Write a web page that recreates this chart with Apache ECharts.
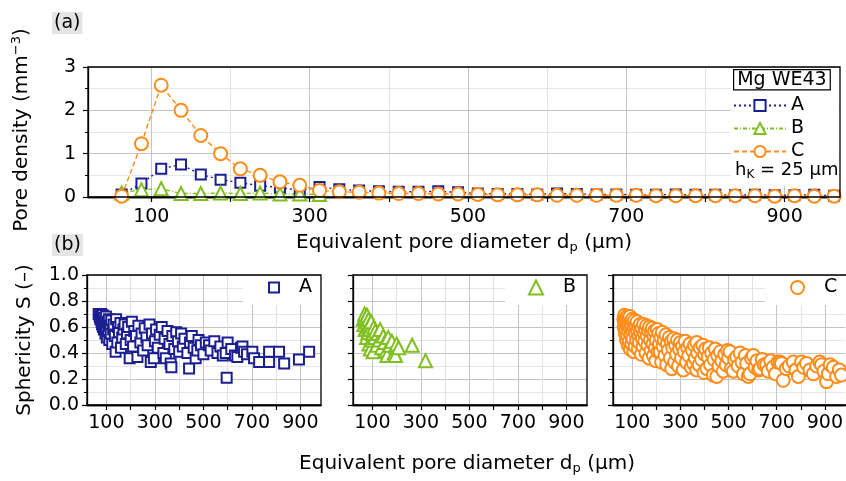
<!DOCTYPE html>
<html>
<head>
<meta charset="utf-8">
<script src="https://cdn.jsdelivr.net/npm/echarts@6/dist/echarts.min.js"></script>
<style>
html,body{margin:0;padding:0;background:#fff;}
#chart{width:846px;height:481px;}
</style>
</head>
<body>
<div id="chart"></div>
<script>
// Pore size classes (bin centres, class width h_K = 25 µm)
const poreBins = [62.5, 87.5, 112.5, 137.5, 162.5, 187.5, 212.5, 237.5, 262.5, 287.5,
  312.5, 337.5, 362.5, 387.5, 412.5, 437.5, 462.5, 487.5, 512.5, 537.5,
  562.5, 587.5, 612.5, 637.5, 662.5, 687.5, 712.5, 737.5, 762.5, 787.5,
  812.5, 837.5, 862.5, 887.5, 912.5, 937.5, 962.5];

// Pore density per class (mm^-3)
const densityA = [0.06, 0.31, 0.65, 0.75, 0.52, 0.40, 0.33, 0.26, 0.22, 0.15,
  0.23, 0.18, 0.15, 0.13, 0.12, 0.12, 0.13, 0.11, 0.08, 0.07,
  0.07, 0.06, 0.08, 0.07, 0.06, 0.06, 0.05, 0.05, 0.06, 0.05,
  0.05, 0.04, 0.05, 0.04, 0.04, 0.05, 0.03];
const densityB = [0.09, 0.17, 0.19, 0.08, 0.08, 0.09, 0.08, 0.09, 0.07, 0.07, 0.06];
const densityC = [0.02, 1.23, 2.58, 2.00, 1.42, 1.00, 0.65, 0.50, 0.35, 0.27,
  0.15, 0.12, 0.11, 0.09, 0.08, 0.08, 0.07, 0.07, 0.06, 0.05,
  0.05, 0.05, 0.04, 0.04, 0.04, 0.04, 0.04, 0.03, 0.03, 0.03,
  0.03, 0.03, 0.03, 0.02, 0.03, 0.02, 0.02];

// Single pores: [equivalent diameter (µm), sphericity]
const sphericityA = [
  [68,0.70],[72,0.68],[75,0.66],[78,0.70],[80,0.64],[82,0.62],[85,0.69],[86,0.60],[88,0.67],[90,0.58],
  [92,0.65],[95,0.62],[96,0.55],[98,0.68],[100,0.60],[102,0.52],[105,0.64],[108,0.57],[110,0.66],[112,0.50],
  [115,0.61],[118,0.55],[120,0.65],[124,0.47],[128,0.58],[130,0.62],[135,0.53],[138,0.41],[140,0.66],[145,0.48],
  [148,0.60],[152,0.56],[158,0.63],[160,0.44],[165,0.52],[170,0.58],[175,0.62],[180,0.47],[185,0.55],[190,0.60],
  [196,0.36],[200,0.50],[205,0.64],[210,0.45],[215,0.57],[222,0.53],[228,0.37],[232,0.61],[240,0.48],[245,0.55],
  [252,0.42],[258,0.59],[265,0.52],[270,0.46],[278,0.62],[283,0.33],[288,0.55],[296,0.36],[300,0.49],[305,0.58],
  [312,0.44],[320,0.54],[328,0.60],[335,0.40],[340,0.51],[345,0.36],[352,0.57],[360,0.47],[365,0.32],[368,0.29],
  [372,0.53],[380,0.43],[388,0.56],[395,0.49],[400,0.41],[408,0.55],[415,0.45],[422,0.51],[434,0.40],[441,0.28],
  [445,0.48],[452,0.53],[460,0.44],[468,0.36],[475,0.42],[480,0.50],[490,0.46],[500,0.39],[510,0.48],[523,0.46],
  [530,0.42],[545,0.49],[558,0.40],[570,0.45],[580,0.38],[592,0.40],[596,0.21],[600,0.48],[615,0.43],[630,0.38],
  [640,0.37],[655,0.44],[661,0.45],[668,0.41],[680,0.39],[702,0.41],[709,0.36],[730,0.33],[771,0.41],[771,0.33],
  [812,0.41],[833,0.32],[894,0.35],[936,0.41]
];
const sphericityB = [
  [62,0.66],[65,0.62],[68,0.70],[70,0.58],[72,0.67],[75,0.64],[76,0.52],[78,0.69],[80,0.60],[82,0.56],
  [84,0.66],[86,0.47],[88,0.62],[90,0.58],[92,0.43],[95,0.64],[97,0.50],[100,0.55],[103,0.41],[106,0.60],
  [110,0.52],[112,0.57],[118,0.46],[122,0.55],[128,0.50],[132,0.58],[138,0.44],[145,0.53],[150,0.48],[158,0.42],
  [160,0.38],[165,0.52],[172,0.46],[180,0.49],[190,0.40],[195,0.38],[200,0.47],[208,0.44],[264,0.46],[319,0.34]
];
const sphericityC = [
  [65,0.66],[66,0.60],[68,0.69],[70,0.63],[71,0.55],[73,0.67],[74,0.58],[76,0.50],[77,0.64],[79,0.68],
  [80,0.61],[81,0.53],[83,0.46],[84,0.66],[85,0.57],[87,0.62],[88,0.49],[90,0.68],[91,0.59],[92,0.43],
  [94,0.64],[95,0.54],[97,0.61],[98,0.47],[100,0.66],[102,0.57],[103,0.51],[105,0.63],[107,0.41],[108,0.59],
  [110,0.65],[112,0.45],[113,0.55],[115,0.61],[118,0.50],[120,0.64],[122,0.57],[125,0.43],[127,0.60],[128,0.53],
  [130,0.48],[133,0.62],[135,0.56],[138,0.39],[140,0.59],[142,0.51],[145,0.45],[147,0.62],[150,0.55],[152,0.49],
  [155,0.58],[157,0.40],[160,0.61],[162,0.53],[165,0.46],[168,0.57],[170,0.36],[172,0.60],[175,0.50],[178,0.42],
  [180,0.56],[183,0.59],[186,0.47],[188,0.38],[190,0.53],[193,0.57],[196,0.44],[198,0.34],[200,0.50],[204,0.58],
  [207,0.41],[210,0.55],[213,0.47],[216,0.41],[219,0.52],[222,0.33],[225,0.56],[228,0.45],[232,0.50],[236,0.38],
  [240,0.54],[243,0.31],[246,0.47],[250,0.42],[254,0.52],[258,0.36],[262,0.49],[264,0.28],[268,0.44],[272,0.51],
  [276,0.33],[280,0.46],[284,0.39],[288,0.50],[292,0.30],[296,0.43],[300,0.48],[304,0.36],[308,0.45],[312,0.27],
  [316,0.41],[320,0.49],[325,0.33],[330,0.44],[335,0.38],[340,0.47],[345,0.29],[350,0.42],[354,0.32],[358,0.46],
  [362,0.36],[368,0.27],[368,0.48],[372,0.40],[378,0.31],[382,0.44],[388,0.35],[393,0.46],[398,0.25],[400,0.39],
  [405,0.43],[410,0.28],[415,0.37],[420,0.44],[425,0.31],[430,0.40],[437,0.23],[440,0.35],[445,0.43],[451,0.22],
  [455,0.38],[460,0.30],[466,0.41],[472,0.34],[478,0.26],[484,0.39],[490,0.31],[496,0.42],[500,0.36],[506,0.41],
  [512,0.28],[520,0.26],[525,0.35],[534,0.37],[540,0.30],[548,0.40],[556,0.33],[562,0.24],[570,0.38],[575,0.32],
  [582,0.22],[589,0.24],[595,0.36],[603,0.38],[610,0.29],[618,0.34],[625,0.27],[631,0.28],[640,0.35],[648,0.31],
  [658,0.31],[665,0.26],[675,0.34],[685,0.29],[695,0.24],[705,0.33],[714,0.33],[720,0.32],[727,0.19],[740,0.28],
  [752,0.30],[769,0.33],[780,0.27],[790,0.22],[803,0.33],[812,0.29],[824,0.32],[838,0.27],[852,0.24],[866,0.30],
  [879,0.33],[886,0.31],[896,0.26],[907,0.18],[914,0.24],[922,0.31],[935,0.29],[949,0.22],[960,0.27],[969,0.23]
];

// Axis tick values
const labelledTicks = [100, 300, 500, 700, 900];
const unlabelledTicks = [200, 400, 600, 800];

const FONT = 'DejaVu Sans';
const colA = '#1b1f8f', colB = '#7fbf1f', colC = '#ff8c1a';

const topGrid = {left: 88, top: 67, width: 752, height: 130};
const lowGrids = [
  {left: 87, top: 275, width: 234, height: 130},
  {left: 353, top: 275, width: 234, height: 130},
  {left: 613, top: 275, width: 234, height: 130}
];
const TOP_LABEL_MARGIN = 11;

const pair = (xs, ys) => ys.map((v, i) => [xs[i], v]);

function xAxisPair(gridIndex, min, max, fontSize, labelMargin) {
  const base = {
    type: 'value', gridIndex, min, max, position: 'bottom',
    axisLine: {show: true, onZero: false, lineStyle: {color: '#000', width: 1.3}},
    axisTick: {show: true, inside: false, length: 5, lineStyle: {color: '#000', width: 1.2}},
    minorTick: {show: false}
  };
  return [
    Object.assign({}, base, {
      axisTick: Object.assign({}, base.axisTick, {customValues: labelledTicks}),
      axisLabel: {show: true, customValues: labelledTicks, margin: labelMargin,
        hideOverlap: false, fontSize, fontFamily: FONT, color: '#000'},
      splitLine: {show: true, lineStyle: {color: '#c4c4c4', width: 1}}
    }),
    Object.assign({}, base, {
      axisTick: Object.assign({}, base.axisTick, {customValues: unlabelledTicks}),
      axisLabel: {show: false, customValues: unlabelledTicks},
      splitLine: {show: true, lineStyle: {color: '#e2e2e2', width: 1}}
    })
  ];
}

const xAxes = [].concat(
  xAxisPair(0, 20, 970, 19, TOP_LABEL_MARGIN),
  xAxisPair(1, 20, 985, 19, 9),
  xAxisPair(2, 20, 985, 19, 9),
  xAxisPair(3, 20, 985, 19, 9)
);

const yAxisCommon = {
  type: 'value',
  axisLine: {show: true, onZero: false, lineStyle: {color: '#000', width: 1.3}},
  axisTick: {show: true, inside: false, length: 5, lineStyle: {color: '#000', width: 1.2}},
  minorTick: {show: true, splitNumber: 2, length: 3, lineStyle: {color: '#000', width: 1}},
  splitLine: {show: true, lineStyle: {color: '#c4c4c4', width: 1}},
  minorSplitLine: {show: true, lineStyle: {color: '#e6e6e6', width: 1}}
};

const yAxes = [
  Object.assign({}, yAxisCommon, {
    gridIndex: 0, min: 0, max: 3, interval: 1,
    axisLabel: {margin: 12, fontSize: 19, fontFamily: FONT, color: '#000'}
  }),
  Object.assign({}, yAxisCommon, {
    gridIndex: 1, min: 0, max: 1, interval: 0.2,
    axisLabel: {margin: 8, fontSize: 19, fontFamily: FONT, color: '#000',
      formatter: v => v.toFixed(1)},
    name: 'Sphericity S (–)', nameLocation: 'middle', nameGap: 52,
    nameTextStyle: {fontSize: 20, fontFamily: FONT, color: '#000'}
  }),
  Object.assign({}, yAxisCommon, {gridIndex: 2, min: 0, max: 1, interval: 0.2, axisLabel: {show: false}}),
  Object.assign({}, yAxisCommon, {gridIndex: 3, min: 0, max: 1, interval: 0.2, axisLabel: {show: false}})
];

function densityLine(name, values, color, symbol, size, dash) {
  return {
    type: 'line', name, xAxisIndex: 0, yAxisIndex: 0, clip: false,
    data: pair(poreBins, values),
    symbol, symbolSize: size, showAllSymbol: true,
    lineStyle: {color, width: 1.4, type: dash},
    itemStyle: {color: '#fff', borderColor: color, borderWidth: 2},
    emphasis: {disabled: true}
  };
}

function poreScatter(name, values, color, symbol, size, panel) {
  return {
    type: 'scatter', name, xAxisIndex: 2 * (panel + 1), yAxisIndex: panel + 1,
    data: values, symbol, symbolSize: size, clip: false,
    itemStyle: {color: '#fff', borderColor: color, borderWidth: 2, opacity: 1},
    emphasis: {disabled: true}
  };
}

const series = [
  densityLine('A', densityA, colA, 'rect', 10, [2, 3]),
  densityLine('B', densityB, colB, 'triangle', 13, [4, 2, 1, 2]),
  densityLine('C', densityC, colC, 'circle', 13, [5, 3]),
  poreScatter('pA', sphericityA, colA, 'rect', 10, 0),
  poreScatter('pB', sphericityB, colB, 'triangle', 13, 1),
  poreScatter('pC', sphericityC, colC, 'circle', 13, 2)
];

const legendText = {fontSize: 19, fontFamily: FONT, color: '#000'};
const cornerKey = (name, letter, left, size, gap) => ({
  data: [name], left, top: 278, padding: 0, itemWidth: size, itemHeight: size,
  formatter: () => letter, selectedMode: false,
  textStyle: Object.assign({}, legendText, {padding: [0, 0, 0, gap]})
});
const legends = [
  {data: ['A', 'B', 'C'], orient: 'vertical', left: 733, top: 96, padding: 0,
    itemWidth: 52, itemHeight: 14, itemGap: 4, textStyle: legendText, selectedMode: false},
  cornerKey('pA', 'A', 268, 10, 15),
  cornerKey('pB', 'B', 528, 14, 15),
  cornerKey('pC', 'C', 790, 13, 15)
];

const frame = g => ({type: 'rect', z: 6, silent: true,
  shape: {x: g.left, y: g.top, width: g.width, height: g.height},
  style: {fill: 'none', stroke: '#000', lineWidth: 1.3}});
const whiteBox = (x, y, w, h) => ({type: 'rect', z: 1, silent: true,
  shape: {x, y, width: w, height: h}, style: {fill: '#fff'}});
const subRich = {sub: {fontSize: 13, fontFamily: FONT, fill: '#000', padding: [9, 0, 0, 0]}};

const graphics = [
  whiteBox(731, 68, 108, 118),
  whiteBox(243, 276, 77, 29),
  whiteBox(505, 276, 81, 29),
  whiteBox(765, 276, 81, 29),
  frame(topGrid), frame(lowGrids[0]), frame(lowGrids[1]), frame(lowGrids[2]),
  {type: 'text', left: 52, top: 12, z: 7, silent: true,
    style: {text: '(a)', font: '19px "DejaVu Sans"', fill: '#000', backgroundColor: '#e4e4e4', padding: [2, 2, 1, 2]}},
  {type: 'text', left: 52, top: 234, z: 7, silent: true,
    style: {text: '(b)', font: '19px "DejaVu Sans"', fill: '#000', backgroundColor: '#e4e4e4', padding: [2, 2, 1, 2]}},
  {type: 'text', left: 733, top: 69, z: 7, silent: true,
    style: {text: 'Mg WE43', font: '19px "DejaVu Sans"', fill: '#000', backgroundColor: '#fff',
      borderColor: '#000', borderWidth: 1.2, padding: [0, 3, 0, 3]}},
  {type: 'text', left: 735, top: 161, z: 7, silent: true,
    style: {text: 'h{sub|K} = 25 µm', font: '18px "DejaVu Sans"', fill: '#000',
      rich: {sub: {fontSize: 12, fontFamily: FONT, fill: '#000', padding: [9, 0, 0, 0]}}}},
  {type: 'text', x: 22, y: 130, rotation: Math.PI / 2, z: 7, silent: true,
    style: {text: 'Pore density (mm{sup|−3})', font: '20px "DejaVu Sans"', fill: '#000',
      align: 'center', verticalAlign: 'middle',
      rich: {sup: {fontSize: 13, fontFamily: FONT, fill: '#000', padding: [0, 0, 10, 0]}}}},
  {type: 'text', x: 464, y: 232, z: 7, silent: true,
    style: {text: 'Equivalent pore diameter d{sub|p} (µm)', font: '20px "DejaVu Sans"', fill: '#000',
      align: 'center', rich: subRich}},
  {type: 'text', x: 467, y: 453, z: 7, silent: true,
    style: {text: 'Equivalent pore diameter d{sub|p} (µm)', font: '20px "DejaVu Sans"', fill: '#000',
      align: 'center', rich: subRich}}
];

const chart = echarts.init(document.getElementById('chart'), null, {renderer: 'canvas'});
chart.setOption({
  animation: false,
  backgroundColor: '#fff',
  grid: [topGrid].concat(lowGrids),
  xAxis: xAxes,
  yAxis: yAxes,
  legend: legends,
  series,
  graphic: graphics
});

// Tick labels of the density axis that the label layout left hidden are put
// back at the axis' own pixel position for their value.
function isPainted(el) {
  for (let e = el; e; e = e.parent) {
    if (e.ignore || e.invisible) return false;
    if (e.style && e.style.opacity === 0) return false;
  }
  return true;
}
function restoreTopTickLabels() {
  const axisY = topGrid.top + topGrid.height;
  const shown = new Set();
  chart.getZr().storage.getDisplayList(true, true).forEach(el => {
    if (!el.style || typeof el.style.text !== 'string' || !isPainted(el)) return;
    const r = el.getBoundingRect().clone();
    const m = el.getComputedTransform();
    if (m) r.applyTransform(m);
    const cx = r.x + r.width / 2;
    if (r.y > axisY && r.y < axisY + 30) shown.add(el.style.text + '@' + Math.round(cx / 10));
  });
  const missing = labelledTicks.filter(v => {
    const px = chart.convertToPixel({xAxisIndex: 0}, v);
    const key = Math.round(px / 10);
    return ![key - 1, key, key + 1].some(k => shown.has(v + '@' + k));
  });
  if (!missing.length) return;
  const extra = missing.map(v => ({
    type: 'text', z: 20, silent: true,
    x: chart.convertToPixel({xAxisIndex: 0}, v),
    y: axisY + TOP_LABEL_MARGIN,
    style: {text: String(v), font: '19px "DejaVu Sans"', fill: '#000', align: 'center', verticalAlign: 'top'}
  }));
  chart.setOption({graphic: graphics.concat(extra)});
}
restoreTopTickLabels();
</script>
</body>
</html>
